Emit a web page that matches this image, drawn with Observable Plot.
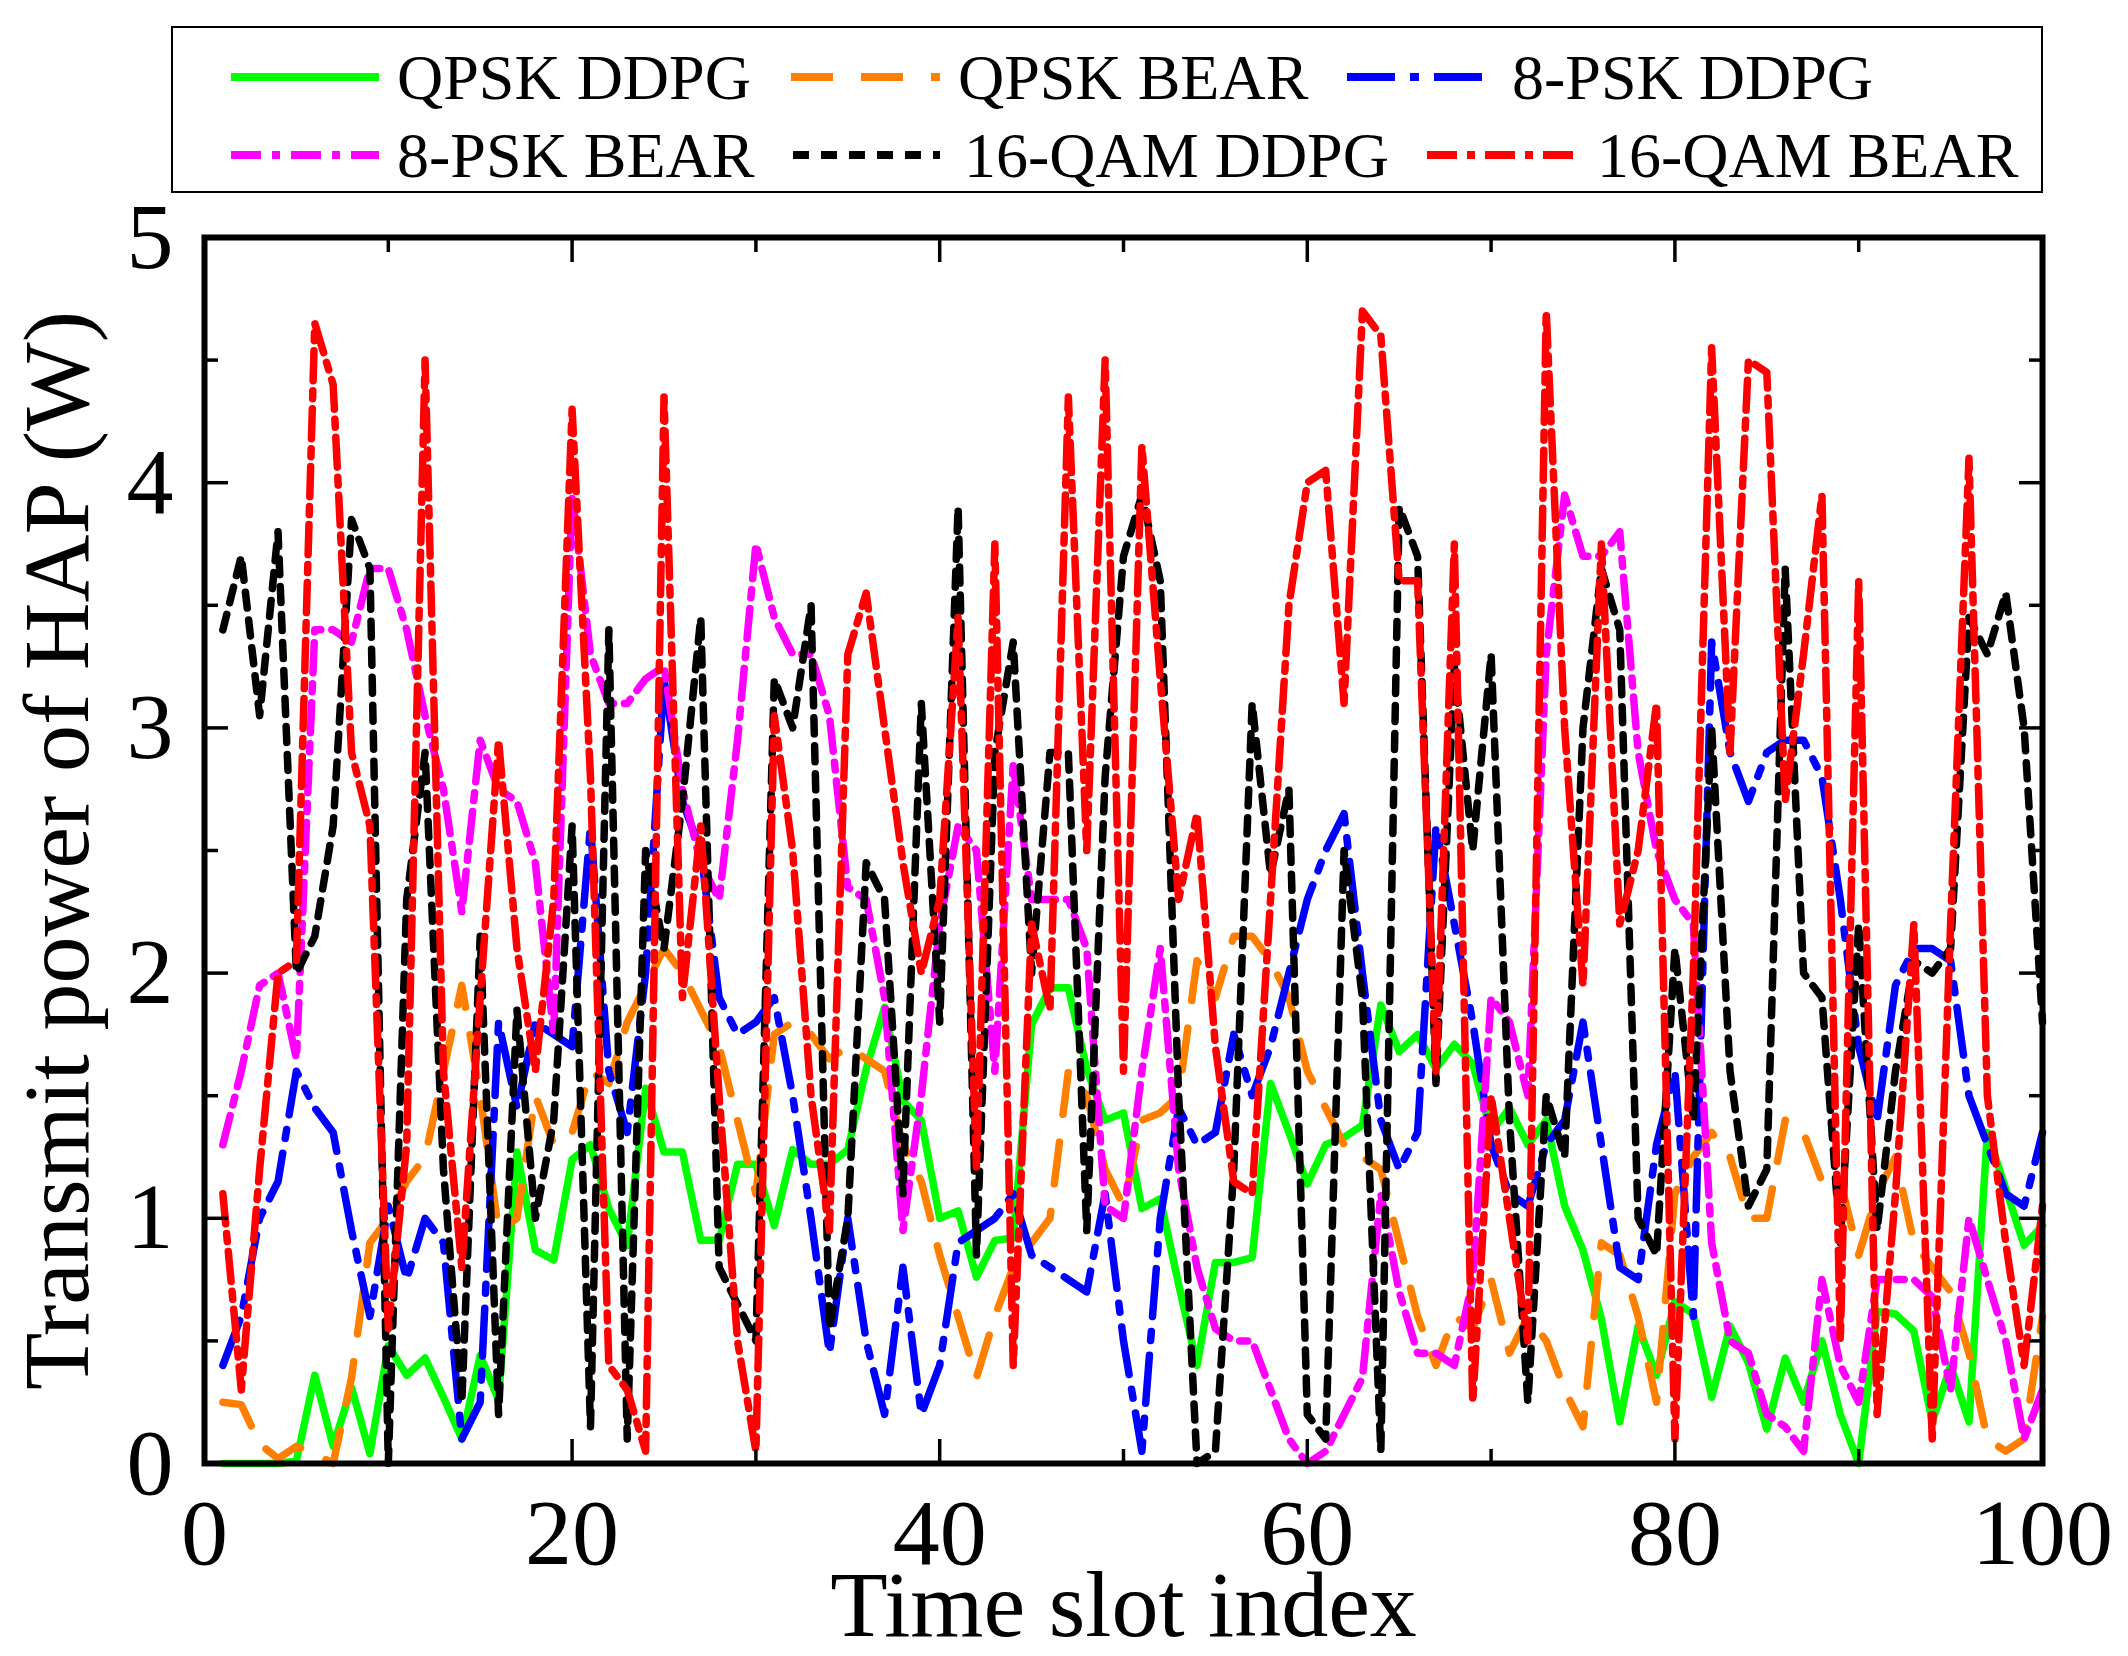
<!DOCTYPE html>
<html>
<head>
<meta charset="utf-8">
<script src="https://cdn.jsdelivr.net/npm/d3@7"></script>
<script src="https://cdn.jsdelivr.net/npm/@observablehq/plot@0.6"></script>
<style>
  body { margin: 0; background: #fff; }
  svg { display: block; }
  #leyenda svg { overflow: visible; position: relative; z-index: 1; }
</style>
</head>
<body>
<div id="leyenda"></div>
<div id="grafico"></div>
<script>
// eje x: índice de ranura temporal
const slots = d3.range(1, 101)

const xMajor = [0, 20, 40, 60, 80, 100]
const xMinor = [10, 30, 50, 70, 90]
const yMajor = [0, 1, 2, 3, 4, 5]
const yMinor = [0.5, 1.5, 2.5, 3.5, 4.5]

// potencia de transmisión (W)
const qpskDdpg = [
  0, 0, 0, 0, 0.01, 0.36, 0.07, 0.31, 0.04, 0.48,
  0.36, 0.43, 0.27, 0.1, 0.44, 0.26, 1.27, 0.87, 0.83, 1.24,
  1.3, 1.04, 0.89, 1.53, 1.27, 1.27, 0.91, 0.91, 1.22, 1.22,
  0.97, 1.28, 1.22, 1.22, 1.28, 1.61, 1.86, 1.48, 1.4, 1.0,
  1.03, 0.76, 0.91, 0.92, 1.79, 1.94, 1.94, 1.61, 1.4, 1.43,
  1.04, 1.08, 0.73, 0.4, 0.82, 0.82, 0.84, 1.55, 1.35, 1.14,
  1.3, 1.33, 1.38, 1.87, 1.68, 1.75, 1.61, 1.71, 1.63, 1.35,
  1.45, 1.3, 1.4, 1.05, 0.87, 0.59, 0.17, 0.56, 0.36, 0.66,
  0.61, 0.27, 0.56, 0.41, 0.14, 0.43, 0.25, 0.5, 0.2, 0,
  0.62, 0.61, 0.54, 0.17, 0.4, 0.17, 1.35, 1.12, 0.89, 0.97
]

const qpskBear = [
  0.25, 0.24, 0.08, 0.02, 0.07, 0.04, 0, 0.35, 0.9, 1.0,
  1.15, 1.25, 1.6, 1.95, 1.5, 0.95, 1.0, 1.5, 1.3, 1.35,
  1.6, 1.55, 1.8, 1.95, 2.1, 2.0, 1.85, 1.7, 1.4, 1.1,
  1.75, 1.8, 1.75, 1.65, 1.7, 1.65, 1.6, 1.3, 1.15, 0.85,
  0.6, 0.35, 0.6, 0.8, 0.9, 1.0, 1.6, 1.5, 1.2, 1.05,
  1.4, 1.43, 1.5, 2.05, 1.9, 2.15, 2.15, 2.05, 1.9, 1.6,
  1.45, 1.3, 1.25, 1.2, 0.9, 0.6, 0.4, 0.6, 0.55, 0.75,
  0.45, 0.6, 0.5, 0.3, 0.15, 0.9, 0.85, 0.6, 0.25, 1.1,
  1.25, 1.35, 1.25, 1.0, 1.0, 1.4, 1.35, 1.15, 1.15, 0.85,
  1.1, 1.25, 0.9, 0.8, 0.7, 0.45, 0.1, 0.05, 0.1, 0.6
]

const psk8Ddpg = [
  0.4, 0.6, 1.0, 1.15, 1.6, 1.45, 1.35, 0.95, 0.6, 1.05,
  0.75, 1.0, 0.9, 0.1, 0.25, 1.8, 1.45, 1.8, 1.75, 1.7,
  2.6, 1.6, 1.35, 2.0, 3.2, 2.7, 2.5, 1.9, 1.75, 1.8,
  1.9, 1.5, 1.0, 0.45, 1.0, 0.5, 0.2, 0.8, 0.2, 0.4,
  0.9, 0.95, 1.0, 1.1, 0.85, 0.8, 0.75, 0.7, 1.1, 0.5,
  0.05, 1.0, 1.45, 1.3, 1.35, 1.75, 1.5, 1.7, 2.0, 2.3,
  2.5, 2.65, 2.0, 1.4, 1.2, 1.35, 2.6, 2.2, 1.8, 1.3,
  1.1, 1.05, 1.3, 1.4, 1.8, 1.3, 0.8, 0.75, 1.3, 1.6,
  0.6, 3.35, 2.9, 2.7, 2.9, 2.95, 2.95, 2.8, 2.3, 1.7,
  1.4, 1.95, 2.1, 2.1, 2.05, 1.5, 1.3, 1.1, 1.05, 1.35
]

const psk8Bear = [
  1.3, 1.6, 1.95, 2.0, 1.65, 3.4, 3.4, 3.35, 3.65, 3.65,
  3.4, 3.05, 2.75, 2.25, 2.95, 2.75, 2.7, 2.45, 1.75, 3.95,
  3.3, 3.1, 3.1, 3.2, 3.25, 2.75, 2.45, 2.3, 2.95, 3.75,
  3.45, 3.3, 3.3, 3.05, 2.35, 2.3, 1.9, 0.95, 1.5, 2.2,
  2.6, 2.5, 1.6, 2.85, 2.3, 2.3, 2.3, 2.1, 1.05, 1.0,
  1.6, 2.1, 1.2, 0.8, 0.55, 0.5, 0.5, 0.3, 0.1, 0,
  0.05, 0.2, 0.35, 1.1, 0.7, 0.45, 0.45, 0.4, 0.75, 1.9,
  1.8, 1.5, 3.3, 3.95, 3.7, 3.7, 3.8, 2.9, 2.5, 2.3,
  2.2, 0.9, 0.5, 0.45, 0.2, 0.15, 0.05, 0.75, 0.4, 0.25,
  0.75, 0.75, 0.75, 0.68, 0.3, 1.0, 0.75, 0.5, 0.1, 0.3
]

const qam16Ddpg = [
  3.4, 3.7, 3.05, 3.8, 2.0, 2.15, 2.6, 3.85, 3.65, 0,
  2.3, 2.9, 1.2, 0.25, 2.15, 0.2, 1.85, 1.0, 1.4, 2.6,
  0.15, 3.4, 0.1, 2.5, 2.1, 2.7, 3.45, 0.8, 0.65, 0.5,
  3.2, 3.0, 3.5, 0.55, 1.0, 2.45, 2.3, 1.1, 3.1, 1.8,
  3.9, 0.85, 2.9, 3.35, 2.0, 2.9, 2.9, 0.95, 2.8, 3.7,
  3.95, 3.6, 1.5, 0, 0.05, 1.2, 3.1, 2.4, 2.75, 0.2,
  0.1, 2.5, 1.9, 0.05, 3.9, 3.7, 1.55, 3.25, 2.5, 3.3,
  1.4, 0.25, 1.5, 1.25, 3.0, 3.65, 3.4, 1.0, 0.85, 2.1,
  1.4, 3.0, 1.6, 1.05, 1.2, 3.65, 2.0, 1.9, 0.9, 2.2,
  0.95, 1.6, 2.05, 2.0, 2.1, 3.45, 3.3, 3.55, 3.0, 1.8
]

const qam16Bear = [
  1.1, 0.3, 1.2, 2.0, 2.05, 4.65, 4.4, 2.9, 2.6, 0.55,
  1.3, 4.5, 1.6, 0.8, 1.9, 2.95, 2.1, 1.6, 2.3, 4.3,
  2.8, 0.4, 0.3, 0.05, 4.35, 1.9, 2.6, 1.5, 0.5, 0.05,
  3.05, 2.5, 1.5, 0.95, 3.3, 3.55, 3.0, 2.45, 2.0, 2.3,
  3.45, 1.2, 3.75, 0.4, 2.2, 1.85, 4.35, 2.5, 4.5, 1.6,
  4.15, 3.2, 2.3, 2.65, 1.7, 1.15, 1.1, 2.3, 3.5, 4.0,
  4.05, 3.1, 4.7, 4.6, 3.6, 3.6, 1.6, 3.75, 0.25, 1.5,
  1.0, 0.5, 4.7, 3.0, 1.95, 3.75, 2.2, 2.5, 3.1, 0.1,
  2.0, 4.55, 2.9, 4.5, 4.45, 2.7, 3.3, 3.95, 0.5, 3.6,
  0.2, 1.1, 2.2, 0.1, 2.2, 4.1, 1.5, 0.9, 0.4, 1.05
]

// estilo de cada serie (orden del gráfico)
const series = [
  { name: 'QPSK DDPG', values: qpskDdpg, color: 'rgb(0,255,0)', dash: null },
  { name: 'QPSK BEAR', values: qpskBear, color: 'rgb(255,128,0)', dash: '42,28' },
  { name: '8-PSK DDPG', values: psk8Ddpg, color: 'rgb(0,0,255)', dash: '48,15,9,15' },
  { name: '8-PSK BEAR', values: psk8Bear, color: 'rgb(255,0,255)', dash: '30,11,8,11' },
  { name: '16-QAM DDPG', values: qam16Ddpg, color: 'black', dash: '16,12' },
  { name: '16-QAM BEAR', values: qam16Bear, color: 'rgb(255,0,0)', dash: '30,10,8,10' },
]

const rows = series.flatMap(s => s.values.map((v, i) => ({ t: slots[i], v: v, name: s.name })))

// leyenda (caja arriba del gráfico)
const legendPos = [
  { x1: 231, x2: 379, tx: 397, y: 77 },
  { x1: 791, x2: 940, tx: 958, y: 77 },
  { x1: 1347, x2: 1494, tx: 1512, y: 77 },
  { x1: 231, x2: 379, tx: 397, y: 155 },
  { x1: 793, x2: 940, tx: 964, y: 155 },
  { x1: 1427, x2: 1579, tx: 1597, y: 155 },
]

const leyenda = d3.select('#leyenda').append('svg')
  .attr('width', 2128)
  .attr('height', 180)
  .style('font-family', 'Liberation Serif')

leyenda.append('rect')
  .attr('x', 172).attr('y', 27)
  .attr('width', 1870).attr('height', 165)
  .attr('fill', 'white')
  .attr('stroke', 'black')
  .attr('stroke-width', 2)

series.forEach((s, i) => {
  const p = legendPos[i]
  leyenda.append('line')
    .attr('x1', p.x1).attr('x2', p.x2)
    .attr('y1', p.y).attr('y2', p.y)
    .attr('stroke', s.color)
    .attr('stroke-width', 8)
    .attr('stroke-dasharray', s.dash)
  leyenda.append('text')
    .attr('x', p.tx).attr('y', p.y + 22)
    .attr('font-size', 64)
    .attr('fill', 'black')
    .text(s.name)
})

const tickOnly = { fill: 'none', label: null, strokeWidth: 3.5 }

let chart = Plot.plot({
  width: 2128,
  height: 1476,
  marginTop: 57,
  marginBottom: 193,
  marginLeft: 204,
  marginRight: 86,
  style: { fontFamily: 'Liberation Serif', background: 'transparent', color: 'black' },
  x: { domain: [0, 100] },
  y: { domain: [0, 5] },
  marks: [
    ...series.map(s => Plot.line(rows.filter(d => d.name === s.name), {
      x: 't',
      y: 'v',
      stroke: s.color,
      strokeWidth: 7.5,
      strokeDasharray: s.dash,
      strokeLinejoin: 'round',
    })),

    Plot.frame({ strokeWidth: 6 }),

    Plot.axisX(xMajor, {
      anchor: 'bottom', tickSize: -24, tickPadding: 58, strokeWidth: 3.5,
      fontSize: 94, tickFormat: d => d,
      label: 'Time slot index', labelAnchor: 'center', labelOffset: 172, labelArrow: 'none',
    }),
    Plot.axisX(xMinor, { anchor: 'bottom', tickSize: -14, ...tickOnly }),
    Plot.axisX(xMajor, { anchor: 'top', tickSize: -24, ...tickOnly }),
    Plot.axisX(xMinor, { anchor: 'top', tickSize: -14, ...tickOnly }),

    Plot.axisY(yMajor, {
      anchor: 'left', tickSize: -24, tickPadding: 55, strokeWidth: 3.5,
      fontSize: 94, tickFormat: d => d,
      label: 'Transmit power of HAP (W)', labelAnchor: 'center', labelOffset: 183, labelArrow: 'none',
    }),
    Plot.axisY(yMinor, { anchor: 'left', tickSize: -14, ...tickOnly }),
    Plot.axisY(yMajor, { anchor: 'right', tickSize: -24, ...tickOnly }),
    Plot.axisY(yMinor, { anchor: 'right', tickSize: -14, ...tickOnly }),
  ],
})

d3.select('#grafico').append(() => chart)
</script>
</body>
</html>
